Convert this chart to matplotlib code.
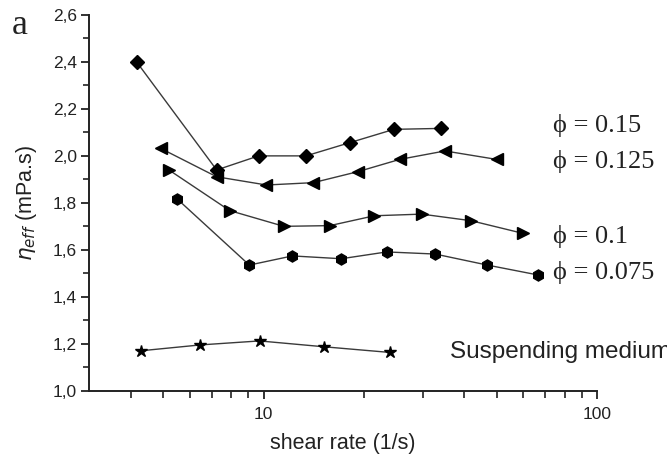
import matplotlib
matplotlib.use("Agg")
import matplotlib.pyplot as plt
from matplotlib.ticker import MultipleLocator, FuncFormatter, NullFormatter, FixedLocator

# Data
x_015 = [4.16, 7.23, 9.66, 13.4, 18.1, 24.6, 34.0]
y_015 = [2.40, 1.94, 2.00, 2.00, 2.056, 2.113, 2.117]

x_0125 = [4.91, 7.23, 10.2, 14.1, 19.2, 25.6, 35.0, 50.0]
y_0125 = [2.032, 1.911, 1.876, 1.886, 1.933, 1.985, 2.021, 1.985]

x_01 = [5.20, 7.91, 11.5, 15.8, 21.5, 29.8, 41.9, 60.0]
y_01 = [1.940, 1.767, 1.700, 1.703, 1.745, 1.752, 1.724, 1.670]

x_0075 = [5.51, 9.06, 12.2, 17.1, 23.4, 32.7, 46.9, 66.5]
y_0075 = [1.816, 1.535, 1.574, 1.562, 1.591, 1.582, 1.535, 1.493]

x_med = [4.28, 6.46, 9.72, 15.2, 23.9]
y_med = [1.170, 1.195, 1.212, 1.187, 1.163]

labels = ["\u03d5 = 0.15", "\u03d5 = 0.125", "\u03d5 = 0.1", "\u03d5 = 0.075"]
label_y = [2.131, 1.975, 1.656, 1.503]
medium_label = "Suspending medium"
x_major = [10, 100]
x_minor = [4, 5, 6, 7, 8, 9, 20, 30, 40, 50, 60, 70, 80, 90]

fig = plt.figure(figsize=(6.67, 4.54), dpi=100)
ax = fig.add_axes([0.1339, 0.1394, 0.895 - 0.1339, 0.967 - 0.1394])

lc = "#3a3a3a"
kw = dict(color=lc, lw=1.0, markerfacecolor="black", markeredgecolor="black", clip_on=False)
ax.plot(x_015, y_015, marker="D", ms=7, **kw)
ax.plot(x_0125, y_0125, marker="<", ms=8.5, **kw)
ax.plot(x_01, y_01, marker=">", ms=8.5, **kw)
ax.plot(x_0075, y_0075, marker="h", ms=8, **kw)
ax.plot(x_med, y_med, marker="*", ms=9, **kw)

ax.set_xscale("log")
ax.set_xlim(3, 100)
ax.set_ylim(1.0, 2.6)

ax.xaxis.set_major_locator(FixedLocator(x_major))
ax.xaxis.set_minor_locator(FixedLocator(x_minor))
ax.xaxis.set_major_formatter(FuncFormatter(lambda v, p: "%d" % v))
ax.xaxis.set_minor_formatter(NullFormatter())

ax.yaxis.set_major_locator(MultipleLocator(0.2))
ax.yaxis.set_minor_locator(MultipleLocator(0.1))
ax.yaxis.set_major_formatter(FuncFormatter(lambda v, p: ("%.1f" % v).replace(".", ",")))

for s in ["top", "right"]:
    ax.spines[s].set_visible(False)
for s in ["left", "bottom"]:
    ax.spines[s].set_linewidth(1.4)
    ax.spines[s].set_color("#222222")

ax.tick_params(axis="both", which="major", direction="out", length=6, width=1.3,
               labelsize=12.5, colors="#222222", pad=3)
ax.tick_params(axis="x", which="major", pad=6)
ax.tick_params(axis="both", which="minor", direction="out", length=4, width=1.2, colors="#222222")
ax.tick_params(axis="x", which="minor", length=5)
for lab in ax.get_xticklabels() + ax.get_yticklabels():
    lab.set_fontfamily("Liberation Sans")

ax.set_xlabel("shear rate (1/s)", fontsize=15.5, family="Liberation Sans", color="#222222", labelpad=8)
ax.set_ylabel(r"$\eta_{eff}$ (mPa.s)", fontsize=15.5, family="Liberation Sans", color="#222222", labelpad=10)

serif = ["Liberation Serif", "DejaVu Serif"]
for t, yv in zip(labels, label_y):
    ax.text(0.913, yv, t, transform=ax.get_yaxis_transform(), fontsize=19, family=serif,
            va="center", ha="left", color="#222222")
ax.text((450 - 89.3) / (597 - 89.3), 1.163, medium_label,
        transform=ax.get_yaxis_transform(), fontsize=17.5, family="Liberation Sans",
        va="center", ha="left", color="#222222", clip_on=False)

fig.text(12 / 667, 1 - 26 / 454, "a", fontsize=26, family=serif, va="center", ha="left", color="#222222")

fig.savefig("out.png", dpi=100)
